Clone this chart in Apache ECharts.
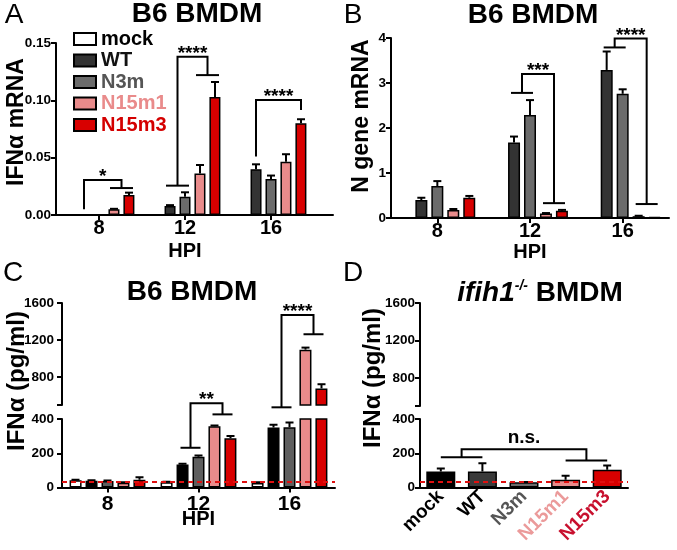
<!DOCTYPE html>
<html><head><meta charset="utf-8">
<script src="https://cdn.jsdelivr.net/npm/echarts@6.0.0/dist/echarts.min.js"></script>
<style>html,body{margin:0;padding:0;background:#fff}#c{width:677px;height:550px}</style>
</head><body><div id="c"></div><script>
// ---------- data ----------
const hpi = ['8', '12', '16'];
const groups = ['mock', 'WT', 'N3m', 'N15m1', 'N15m3'];

// Panel A: IFNα mRNA (B6 BMDM)
const aMock = [null, null, null];
const aWT = [0.0003, 0.0078, 0.040];
const aN3m = [0.0005, 0.016, 0.0314];
const aN15m1 = [0.005, 0.0363, 0.0465];
const aN15m3 = [0.0174, 0.103, 0.080];
const aMockErr = [0, 0, 0];
const aWTErr = [0, 0.0008, 0.0042];
const aN3mErr = [0, 0.0038, 0.003];
const aN15m1Err = [0.0004, 0.0073, 0.0065];
const aN15m3Err = [0.0021, 0.013, 0.0035];
const aYTicks = [0, 0.05, 0.10, 0.15];

// Panel B: N gene mRNA (B6 BMDM)
const bMock = [null, null, null];
const bWT = [0.40, 1.68, 3.29];
const bN3m = [0.71, 2.29, 2.76];
const bN15m1 = [0.18, 0.10, 0.04];
const bN15m3 = [0.45, 0.16, 0.02];
const bMockErr = [0, 0, 0];
const bWTErr = [0.05, 0.13, 0.41];
const bN3mErr = [0.11, 0.33, 0.10];
const bN15m1Err = [0.02, 0.01, 0.01];
const bN15m3Err = [0.04, 0.02, 0];
const bYTicks = [0, 1, 2, 3, 4];

// Panel C: IFNα pg/ml (B6 BMDM)
const cMock = [42, 31, 27];
const cWT = [40, 135, 351];
const cN3m = [38, 180, 352];
const cN15m1 = [28, 357, 1097];
const cN15m3 = [45, 287, 679];
const cMockErr = [3, 3, 3];
const cWTErr = [3, 3, 15];
const cN3mErr = [3, 7, 28];
const cN15m1Err = [3, 5, 22];
const cN15m3Err = [15, 14, 45];

// Panel D: IFNα pg/ml (ifih1-/- BMDM)
const dVals = [94, 93, 30, 45, 104];
const dErr = [17, 48, 2, 24, 24];

// broken y axis for C and D
const lowerTicks = [0, 200, 400];
const upperTicks = [800, 1200, 1600];
const upperBreak = 500;
const detectionLimit = 32;

// significance brackets: left group [cat,slot]-[cat,slot] at ly, right group at ry, top at ty
const aBrackets = [
  {l: [0, 1, 0, 1], ly: 0.005, r: [0, 3, 0, 4], ry: 0.0235, ty: 0.0305, t: '*'},
  {l: [1, 1, 1, 2], ly: 0.0256, r: [1, 3, 1, 4], ry: 0.122, ty: 0.138, t: '****'},
  {l: [2, 1, 2, 1], ly: 0.051, r: [2, 4, 2, 4], ry: 0.0916, ty: 0.1003, t: '****'}
];
const bBrackets = [
  {l: [1, 1, 1, 2], ly: 2.78, r: [1, 3, 1, 4], ry: 0.33, ty: 3.2, t: '***'},
  {l: [2, 1, 2, 2], ly: 3.79, r: [2, 3, 2, 4], ry: 0.31, ty: 3.99, t: '****'}
];
const cLowerBrackets = [
  {l: [1, 1, 1, 2], ly: 232, r: [1, 3, 1, 4], ry: 427, ty: 492, t: '**'}
];
const cUpperBrackets = [
  {l: [2, 1, 2, 2], ly: 475, r: [2, 3, 2, 4], ry: 1263, ty: 1471, t: '****'}
];
const dBrackets = [
  {l: [0, 0, 1, 0], ly: 176, r: [3, 0, 4, 0], ry: 157, ty: 223, t: 'n.s.'}
];

// ---------- styles ----------
const FONT = '"Liberation Sans", Arial, Helvetica, sans-serif';
const abColors = ['#ffffff', '#333333', '#6b6b6b', '#e98b8b', '#d80000'];
const cColors = ['#ffffff', '#000000', '#5e5e5e', '#e98b8b', '#d80000'];
const dColors = ['#000000', '#3a3a3a', '#6b6b6b', '#e98b8b', '#d80000'];
const legendTextColors = ['#000000', '#111111', '#555555', '#e98b8b', '#d40000'];
const dLabelColors = ['#000000', '#000000', '#555555', '#eb9a9a', '#c8102e'];

const chart = echarts.init(document.getElementById('c'), null, {renderer: 'canvas'});

function valueAxis(gridIndex, cfg) {
  const base = {
    type: 'value', gridIndex: gridIndex,
    axisLine: {show: true, onZero: false, lineStyle: {color: '#000', width: 2}},
    axisTick: {show: true, length: 5, lineStyle: {color: '#000', width: 2}},
    axisLabel: {color: '#000', fontFamily: FONT, fontWeight: 'bold', fontSize: 13.5, margin: 5, formatter: v => String(v)},
    splitLine: {show: false}
  };
  for (const k in cfg) {
    if (typeof cfg[k] === 'object' && !Array.isArray(cfg[k]) && base[k]) base[k] = Object.assign({}, base[k], cfg[k]);
    else base[k] = cfg[k];
  }
  return base;
}
function catAxis(gridIndex, data, cfg) {
  const base = {
    type: 'category', gridIndex: gridIndex, data: data,
    axisLine: {show: true, onZero: false, lineStyle: {color: '#000', width: 2}},
    axisTick: {show: true, alignWithLabel: true, length: 5, lineStyle: {color: '#000', width: 2}},
    axisLabel: {color: '#000', fontFamily: FONT, fontWeight: 'bold', fontSize: 20, margin: 3, interval: 0},
    splitLine: {show: false},
    nameMoveOverlap: false
  };
  for (const k in cfg) {
    if (typeof cfg[k] === 'object' && !Array.isArray(cfg[k]) && base[k]) base[k] = Object.assign({}, base[k], cfg[k]);
    else base[k] = cfg[k];
  }
  return base;
}
function bars(axisIndex, valueSets, colors, barWidth, barGap, names) {
  return valueSets.map((vals, i) => ({
    type: 'bar', name: names[i], xAxisIndex: axisIndex, yAxisIndex: axisIndex,
    data: vals, barWidth: barWidth, barGap: barGap, clip: true, silent: true,
    itemStyle: {color: colors[i], borderColor: '#000', borderWidth: 1.5},
    emphasis: {disabled: true}
  }));
}
function errItems(valueSets, errSets) {
  const out = [];
  valueSets.forEach((vals, s) => vals.forEach((v, c) => {
    if (v != null && errSets[s][c] > 0) out.push([c, s, v, errSets[s][c]]);
  }));
  return out;
}
function errSeries(axisIndex, items, spacing, n, cap, extra) {
  return Object.assign({
    type: 'custom', xAxisIndex: axisIndex, yAxisIndex: axisIndex, clip: true, silent: true, z: 3,
    data: items, encode: {x: 0, y: 2},
    renderItem: function (params, api) {
      const cat = api.value(0), slot = api.value(1), v = api.value(2), e = api.value(3);
      const p = api.coord([cat, v]);
      const x = p[0] + (slot - (n - 1) / 2) * spacing;
      const y2 = api.coord([cat, v + e])[1];
      return {type: 'group', children: [
        {type: 'line', shape: {x1: x, y1: p[1], x2: x, y2: y2}, style: {stroke: '#000', lineWidth: 2}},
        {type: 'line', shape: {x1: x - cap, y1: y2, x2: x + cap, y2: y2}, style: {stroke: '#000', lineWidth: 2}}
      ]};
    }
  }, extra || {});
}
function bracketSeries(axisIndex, defs, spacing, n, ext) {
  return {
    type: 'custom', xAxisIndex: axisIndex, yAxisIndex: axisIndex, clip: false, silent: true, z: 5,
    data: defs.map((d, i) => [d.l[0], d.ty, i]), encode: {x: 0, y: 1},
    renderItem: function (params, api) {
      const d = defs[api.value(2)];
      const px = (c, s) => api.coord([c, 0])[0] + (s - (n - 1) / 2) * spacing;
      const py = v => api.coord([0, v])[1];
      const lx0 = px(d.l[0], d.l[1]), lx1 = px(d.l[2], d.l[3]);
      const rx0 = px(d.r[0], d.r[1]), rx1 = px(d.r[2], d.r[3]);
      const lc = (lx0 + lx1) / 2, rc = (rx0 + rx1) / 2;
      const ly = py(d.ly), ry = py(d.ry), ty = py(d.ty);
      const st = {stroke: '#000', lineWidth: 2};
      const ch = [];
      if (lx1 > lx0) ch.push({type: 'line', shape: {x1: lx0 - ext, y1: ly, x2: lx1 + ext, y2: ly}, style: st});
      ch.push({type: 'polyline', shape: {points: [[lc, ly], [lc, ty], [rc, ty], [rc, ry]]}, style: Object.assign({fill: null}, st)});
      if (rx1 > rx0) ch.push({type: 'line', shape: {x1: rx0 - ext, y1: ry, x2: rx1 + ext, y2: ry}, style: st});
      const star = d.t.indexOf('*') >= 0;
      ch.push({type: 'text', x: (lc + rc) / 2, y: ty + (star ? -3 : -12),
        style: {text: d.t, fill: '#000', font: 'bold 19px ' + FONT, textAlign: 'center', textVerticalAlign: 'middle'}});
      return {type: 'group', children: ch};
    }
  };
}
function label(x, y, text, size, weight, rot) {
  return {type: 'text', x: x, y: y, rotation: rot || 0, silent: true,
    style: {text: text, fill: '#000', font: (weight || 'bold') + ' ' + size + 'px ' + FONT, textAlign: 'center', textVerticalAlign: 'middle'}};
}

const aSets = [aMock, aWT, aN3m, aN15m1, aN15m3];
const aErrs = [aMockErr, aWTErr, aN3mErr, aN15m1Err, aN15m3Err];
const bSets = [bMock, bWT, bN3m, bN15m1, bN15m3];
const bErrs = [bMockErr, bWTErr, bN3mErr, bN15m1Err, bN15m3Err];
const cSets = [cMock, cWT, cN3m, cN15m1, cN15m3];
const cErrs = [cMockErr, cWTErr, cN3mErr, cN15m1Err, cN15m3Err];
const cNames = groups.map(g => 'C ' + g);
const dData = dVals.map((v, i) => ({value: v, itemStyle: {color: dColors[i]}}));
const dErrItems = dVals.map((v, i) => [i, 0, v, dErr[i]]);

const gridBase = {show: false, containLabel: false, outerBoundsMode: 'none'};
const dash = {
  symbol: 'none', silent: true, label: {show: false},
  lineStyle: {color: '#e01010', type: [5, 4], width: 2},
  data: [{yAxis: detectionLimit}]
};
const hpiName = {color: '#000', fontFamily: FONT, fontWeight: 'bold', fontSize: 20};

const option = {
  animation: false,
  backgroundColor: '#fff',
  textStyle: {fontFamily: FONT},
  grid: [
    Object.assign({left: 56, top: 43, width: 258, height: 172}, gridBase),
    Object.assign({left: 56, top: 43, width: 277, height: 172}, gridBase),
    Object.assign({left: 391, top: 38, width: 278, height: 180}, gridBase),
    Object.assign({left: 62, top: 303, width: 273, height: 102}, gridBase),
    Object.assign({left: 62, top: 419, width: 273, height: 68.5}, gridBase),
    Object.assign({left: 420, top: 303, width: 208, height: 103}, gridBase),
    Object.assign({left: 420, top: 419, width: 208, height: 68.5}, gridBase)
  ],
  xAxis: [
    catAxis(0, hpi, {name: 'HPI', nameLocation: 'middle', nameGap: 26, nameTextStyle: hpiName}),
    {type: 'value', gridIndex: 1, min: 0, max: 1, axisLine: {show: true, onZero: false, lineStyle: {color: '#000', width: 2}},
      axisTick: {show: false}, axisLabel: {show: false}, splitLine: {show: false}},
    catAxis(2, hpi, {name: 'HPI', nameLocation: 'middle', nameGap: 24, nameTextStyle: hpiName}),
    catAxis(3, hpi, {show: false}),
    catAxis(4, hpi, {axisLabel: {fontSize: 21, margin: 6}, name: 'HPI', nameLocation: 'middle', nameGap: 22, nameTextStyle: hpiName}),
    catAxis(5, groups, {show: false}),
    catAxis(6, groups, {axisTick: {show: false}, axisLabel: {fontSize: 19, margin: 6, rotate: 45,
      color: function (v, i) { return dLabelColors[groups.indexOf(v)]; }}})
  ],
  yAxis: [
    valueAxis(0, {min: aYTicks[0], max: aYTicks[aYTicks.length - 1], interval: aYTicks[1] - aYTicks[0],
      axisLabel: {formatter: v => v.toFixed(2)}}),
    {type: 'value', gridIndex: 1, show: false, min: 0, max: 1},
    valueAxis(2, {min: bYTicks[0], max: bYTicks[bYTicks.length - 1], interval: bYTicks[1] - bYTicks[0]}),
    valueAxis(3, {min: upperBreak, max: upperTicks[upperTicks.length - 1],
      axisTick: {customValues: [upperBreak].concat(upperTicks)}, axisLabel: {customValues: upperTicks, margin: 8}}),
    valueAxis(4, {min: lowerTicks[0], max: lowerTicks[lowerTicks.length - 1], interval: lowerTicks[1] - lowerTicks[0],
      axisLabel: {margin: 8}}),
    valueAxis(5, {min: upperBreak, max: upperTicks[upperTicks.length - 1],
      axisTick: {customValues: [upperBreak].concat(upperTicks)}, axisLabel: {customValues: upperTicks, margin: 5}}),
    valueAxis(6, {min: lowerTicks[0], max: lowerTicks[lowerTicks.length - 1], interval: lowerTicks[1] - lowerTicks[0]})
  ],
  legend: {
    orient: 'vertical', left: 73, top: 29, padding: 0, itemWidth: 22, itemHeight: 12, itemGap: 1.5,
    icon: 'rect', selectedMode: false,
    textStyle: {fontFamily: FONT, fontWeight: 'bold', fontSize: 20},
    data: groups.map((g, i) => ({name: g, textStyle: {color: legendTextColors[i]}}))
  },
  series: [].concat(
    bars(0, aSets, abColors, 11, '36%', groups),
    [errSeries(0, errItems(aSets, aErrs), 15, 5, 4), bracketSeries(0, aBrackets, 15, 5, 4)],
    bars(2, bSets, abColors, 12, '33%', groups.map(g => 'B ' + g)),
    [errSeries(2, errItems(bSets, bErrs), 16, 5, 4), bracketSeries(2, bBrackets, 16, 5, 3)],
    bars(3, cSets, cColors, 12, '33%', cNames),
    bars(4, cSets, cColors, 12, '33%', cNames),
    [errSeries(3, errItems(cSets, cErrs), 16, 5, 4), errSeries(4, errItems(cSets, cErrs), 16, 5, 4, {markLine: dash}),
     bracketSeries(4, cLowerBrackets, 16, 5, 2), bracketSeries(3, cUpperBrackets, 16, 5, 2)],
    [{type: 'bar', name: 'D upper', xAxisIndex: 5, yAxisIndex: 5, data: dData, barWidth: 29, clip: true, silent: true,
      itemStyle: {borderColor: '#000', borderWidth: 1.5}},
     {type: 'bar', name: 'D lower', xAxisIndex: 6, yAxisIndex: 6, data: dData, barWidth: 29, clip: true, silent: true,
      itemStyle: {borderColor: '#000', borderWidth: 1.5}},
     errSeries(5, dErrItems, 0, 1, 4), errSeries(6, dErrItems, 0, 1, 4, {markLine: dash}),
     bracketSeries(6, dBrackets, 0, 1, 0)]
  ),
  graphic: [
    label(14, 15, 'A', 28, 'normal'),
    label(353, 15, 'B', 28, 'normal'),
    label(13, 273, 'C', 28, 'normal'),
    label(353, 273, 'D', 28, 'normal'),
    label(197, 14, 'B6 BMDM', 28),
    label(533, 15, 'B6 BMDM', 28),
    label(192, 292, 'B6 BMDM', 28),
    {type: 'text', x: 540, y: 293, silent: true, style: {
      text: '{i|ifih1}{s|-/-}{b| BMDM}', textAlign: 'center', textVerticalAlign: 'middle', fill: '#000',
      rich: {
        i: {fontFamily: FONT, fontWeight: 'bold', fontStyle: 'italic', fontSize: 28},
        s: {fontFamily: FONT, fontWeight: 'bold', fontStyle: 'italic', fontSize: 14, padding: [0, 0, 13, 0]},
        b: {fontFamily: FONT, fontWeight: 'bold', fontSize: 28}
      }}},
    label(17, 122, 'IFNα mRNA', 23, 'bold', Math.PI / 2),
    label(362, 116, 'N gene mRNA', 23, 'bold', Math.PI / 2),
    label(17, 381, 'IFNα (pg/ml)', 24, 'bold', Math.PI / 2),
    label(373, 378, 'IFNα (pg/ml)', 24, 'bold', Math.PI / 2)
  ]
};
chart.setOption(option);
</script></body></html>
